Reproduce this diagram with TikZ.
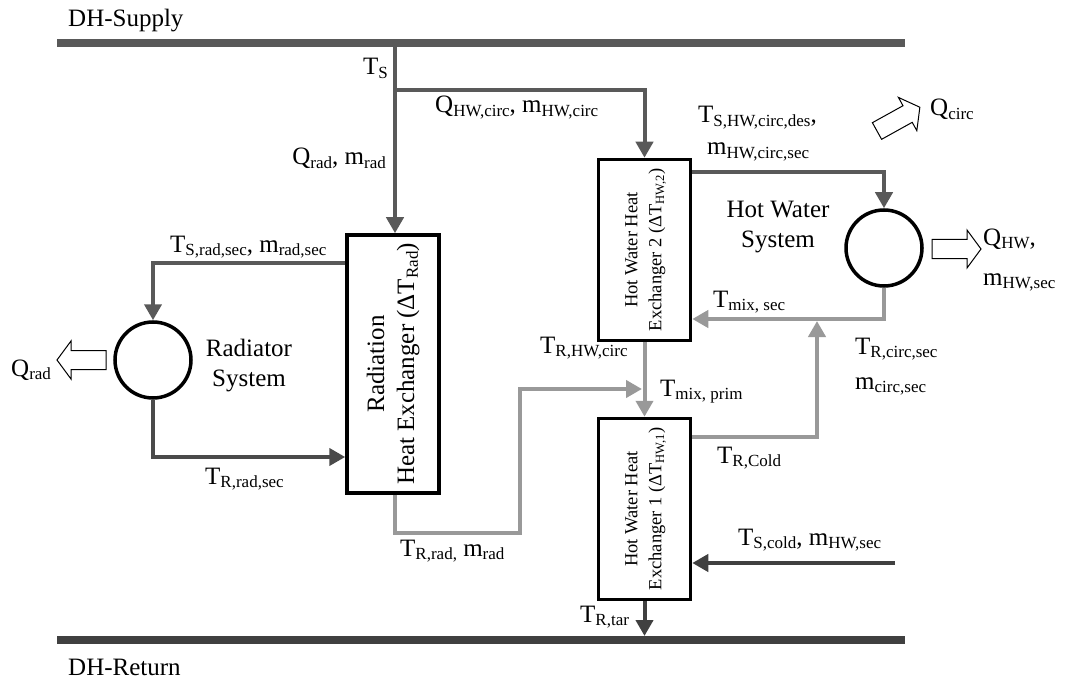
\documentclass[tikz,border=0pt]{standalone}
\usepackage{fontspec}
\setmainfont{Liberation Serif}
\usetikzlibrary{arrows.meta}
\newcommand\dn[1]{\raisebox{-0.15em}{\fontsize{\fpeval{0.68*\csname f@size\endcsname}}{0}\selectfont #1}}
\definecolor{supc}{HTML}{595959}
\definecolor{retc}{HTML}{404040}
\definecolor{lgc}{HTML}{999999}
\definecolor{rrc}{HTML}{4A4A4A}
\tikzset{
  bus/.style={line width=7.5pt},
  flow/.style={line width=4pt,-{Triangle[length=16pt,width=17pt]}},
  sup/.style={flow,draw=supc},
  rrt/.style={flow,draw=rrc},
  ret/.style={flow,draw=retc},
  lg/.style={flow,draw=lgc},
  hxbox/.style={draw=black,line width=3.5pt,fill=white,inner sep=0pt},
  disc/.style={circle,draw=black,line width=3.5pt,minimum size=76pt,inner sep=0pt},
  lbl/.style={font=\fontsize{25}{30}\selectfont,inner sep=0pt},
  openarr/.style={draw=black,line width=1pt,fill=white},
}
\begin{document}
\begin{tikzpicture}[x=1pt,y=-1pt]
\useasboundingbox (0,0) rectangle (1071,679);
% buses
\coordinate (s1) at (57,43); \coordinate (s2) at (905,43);
\coordinate (r1) at (57,640); \coordinate (r2) at (905,640);
\draw[bus,draw=supc] (s1) -- (s2);
\draw[bus,draw=retc] (r1) -- (r2);
% helper coordinates
\coordinate (js) at (395,43);
\coordinate (jb) at (395,90);
\coordinate (yrs) at (0,263);
\coordinate (yrr) at (0,457);
\coordinate (l1) at (520,533);
\coordinate (mixp) at (644,389);
\coordinate (jm) at (817,319);
\coordinate (yc) at (0,437);
\coordinate (yh) at (0,172);
\coordinate (cold) at (895,563);
\coordinate (yb) at (0,636);
% boxes
\node[hxbox,minimum width=92pt,minimum height=258pt] (radhx) at (393,364)
  {\rotatebox{90}{\fontsize{25}{30}\selectfont\begin{tabular}{@{}c@{}}Radiation\\Heat Exchanger (ΔT\dn{Rad})\end{tabular}}};
\node[hxbox,minimum width=92pt,minimum height=181pt] (hx2) at (644.5,250)
  {\rotatebox{90}{\fontsize{18.5}{24}\selectfont\begin{tabular}{@{}c@{}}Hot Water Heat\\Exchanger 2 (ΔT\dn{HW,2})\end{tabular}}};
\node[hxbox,minimum width=92pt,minimum height=181pt] (hx1) at (644.5,509)
  {\rotatebox{90}{\fontsize{18.5}{24}\selectfont\begin{tabular}{@{}c@{}}Hot Water Heat\\Exchanger 1 (ΔT\dn{HW,1})\end{tabular}}};
\node[disc] (rad) at (153,360) {};
\node[disc] (hw) at (884,248) {};
% connectors
\draw[sup] (js) -- (js |- radhx.north);
\draw[sup] (jb) -| (hx2.north);
\draw[sup] (radhx.west |- yrs) -| (rad.north);
\draw[rrt] (rad.south) |- (radhx.west |- yrr);
\draw[lg,shorten >=2pt] (radhx.south -| js) |- (l1) |- (mixp);
\draw[lg] (hx2.south) -- (hx1.north);
\draw[lg,shorten >=2pt] (hx1.east |- yc) -| (jm);
\draw[sup] (hx2.east |- yh) -| (hw.north);
\draw[lg] (hw.south) |- (hx2.east |- jm);
\draw[ret] (cold) -- (hx1.east |- cold);
\draw[ret] (hx1.south) -- (hx1.south |- yb);
% open arrows
\begin{scope}[shift={(106,360)},rotate=180]
\draw[openarr] (0,-9.5) -- (35,-9.5) -- (35,-19) -- (49,0) -- (35,19) -- (35,9.5) -- (0,9.5) -- cycle;
\end{scope}
\begin{scope}[shift={(932,249)}]
\draw[openarr] (0,-9.5) -- (35,-9.5) -- (35,-19) -- (49,0) -- (35,19) -- (35,9.5) -- (0,9.5) -- cycle;
\end{scope}
\begin{scope}[shift={(877,131)},rotate=29]
\draw[openarr] (0,-9.5) -- (35,-9.5) -- (35,-19) -- (49,0) -- (35,19) -- (35,9.5) -- (0,9.5) -- cycle;
\end{scope}
% labels
\node[lbl,anchor=base west] (tdhs) at (68,27) {DH-Supply};
\node[lbl,anchor=base west] (tdhr) at (68,675) {DH-Return};
\node[lbl,anchor=base east] (tts) at (388,75) {T\dn{S}};
\node[lbl,anchor=base east] (tqrad) at (386,165) {Q\dn{rad}, m\dn{rad}};
\node[lbl,anchor=base west] (tqhw) at (435,113) {Q\dn{HW,circ}, m\dn{HW,circ}};
\node[lbl,anchor=base west] (ttsrad) at (170,252) {T\dn{S,rad,sec}, m\dn{rad,sec}};
\node[lbl,align=center] (tradsys) at (249,366) {Radiator\\System};
\node[lbl,anchor=base west] (tqradout) at (11,376) {Q\dn{rad}};
\node[lbl,anchor=base west] (ttrrad) at (205,484) {T\dn{R,rad,sec}};
\node[lbl,anchor=base west] (ttrrm) at (400,556) {T\dn{R,rad,} m\dn{rad}};
\node[lbl,anchor=base west] (ttrhwc) at (540,353) {T\dn{R,HW,circ}};
\node[lbl,anchor=base west] (ttmixp) at (660,396) {T\dn{mix, prim}};
\node[lbl,anchor=base west] (ttrcold) at (717,463) {T\dn{R,Cold}};
\node[lbl,anchor=base west] (ttscold) at (738,545) {T\dn{S,cold}, m\dn{HW,sec}};
\node[lbl,anchor=base west] (ttrtar) at (580,622) {T\dn{R,tar}};
\node[lbl,anchor=base west] (ttshw) at (698,123) {T\dn{S,HW,circ,des},};
\node[lbl,anchor=base west] (tmhw) at (707,155) {m\dn{HW,circ,sec}};
\node[lbl,align=center] (thwsys) at (778,227) {Hot Water\\System};
\node[lbl,anchor=base west] (ttmixs) at (713,307) {T\dn{mix, sec}};
\node[lbl,anchor=base west] (ttrcs) at (855,354) {T\dn{R,circ,sec}};
\node[lbl,anchor=base west] (tmcs) at (855,389) {m\dn{circ,sec}};
\node[lbl,anchor=base west] (tqhwo) at (983,245) {Q\dn{HW},};
\node[lbl,anchor=base west] (tmhws) at (983,285) {m\dn{HW,sec}};
\node[lbl,anchor=base west] (tqcirc) at (930,116) {Q\dn{circ}};
\end{tikzpicture}
\end{document}
